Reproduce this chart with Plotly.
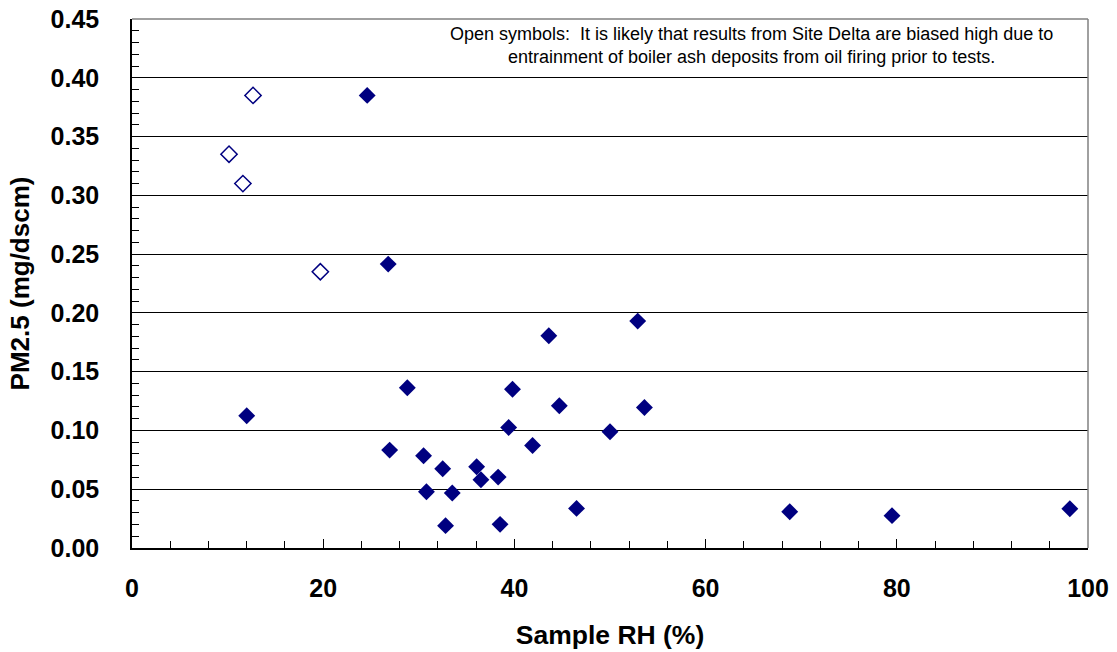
import plotly.graph_objects as go

# Sample relative humidity (%) and PM2.5 (mg/dscm)
rh_sites = [12.0, 24.6, 26.8, 26.95, 28.8, 30.5, 30.8, 32.5, 32.8, 33.5,
            36.05, 36.5, 38.3, 38.5, 39.4, 39.8, 41.9, 43.6, 44.7, 46.5,
            50.0, 52.9, 53.6, 68.8, 79.5, 98.1]
pm_sites = [0.1125, 0.385, 0.2415, 0.0833, 0.1363, 0.0785, 0.0479, 0.0674, 0.019, 0.0468,
            0.0691, 0.058, 0.0603, 0.0201, 0.1025, 0.135, 0.0872, 0.1805, 0.121, 0.0337,
            0.0989, 0.193, 0.1195, 0.0309, 0.0275, 0.0334]

# Site Delta runs (open symbols)
rh_delta = [10.15, 11.6, 12.66, 19.7]
pm_delta = [0.335, 0.310, 0.385, 0.235]

note_text = ("Open symbols:  It is likely that results from Site Delta are biased high due to<br>"
             "entrainment of boiler ash deposits from oil firing prior to tests.")

NAVY = "#000080"
FONT = "Liberation Sans, Arial, sans-serif"

fig = go.Figure()
fig.add_trace(go.Scatter(
    x=rh_sites, y=pm_sites, mode="markers",
    marker=dict(symbol="diamond", size=13, color=NAVY, line=dict(width=0)),
    showlegend=False, cliponaxis=False))
fig.add_trace(go.Scatter(
    x=rh_delta, y=pm_delta, mode="markers",
    marker=dict(symbol="diamond-open", size=12.5, color=NAVY, line=dict(width=1.5, color=NAVY)),
    showlegend=False, cliponaxis=False))

fig.update_layout(
    width=1117, height=652,
    margin=dict(l=132, r=29, t=19, b=104, autoexpand=False),
    paper_bgcolor="white", plot_bgcolor="white",
    font=dict(family=FONT, color="black"),
    xaxis=dict(
        range=[0, 100], dtick=20, tick0=0, automargin=False,
        showgrid=False, zeroline=False,
        showline=True, linecolor="black", linewidth=1.5,
        ticks="inside", ticklen=9, tickwidth=1.2, tickcolor="black",
        minor=dict(dtick=4, ticks="inside", ticklen=7, tickwidth=1.2, tickcolor="black"),
        tickfont=dict(size=25, family=FONT, color="black", weight="bold"),
        ticklabelstandoff=17,
        title=dict(text="<b>Sample RH (%)</b>", font=dict(size=26.5, family=FONT), standoff=25),
    ),
    yaxis=dict(
        range=[0, 0.45], dtick=0.05, tick0=0, tickformat=".2f", automargin=False,
        showgrid=True, gridcolor="black", gridwidth=1.2, zeroline=False,
        showline=True, linecolor="black", linewidth=1.5,
        ticks="inside", ticklen=7, tickwidth=1.2, tickcolor="black",
        minor=dict(dtick=0.01, ticks="inside", ticklen=7, tickwidth=1.2, tickcolor="black",
                   showgrid=False),
        tickfont=dict(size=25, family=FONT, color="black", weight="bold"),
        ticklabelstandoff=26,
        title=dict(text="<b>PM2.5 (mg/dscm)</b>", font=dict(size=26, family=FONT), standoff=13),
    ),
)

# Grey frame along the top and right of the plotting area
fig.add_shape(type="line", xref="paper", yref="paper", x0=0, x1=1, y0=1, y1=1,
              line=dict(color="#808080", width=1.5))
fig.add_shape(type="line", xref="paper", yref="paper", x0=1, x1=1, y0=0, y1=1,
              line=dict(color="#808080", width=1.5))

fig.add_annotation(
    text=note_text, xref="paper", yref="paper", x=0.6475, y=0.995,
    xanchor="center", yanchor="top", showarrow=False, align="center",
    font=dict(size=18, family=FONT, color="black"))

fig.write_html("out.html")
